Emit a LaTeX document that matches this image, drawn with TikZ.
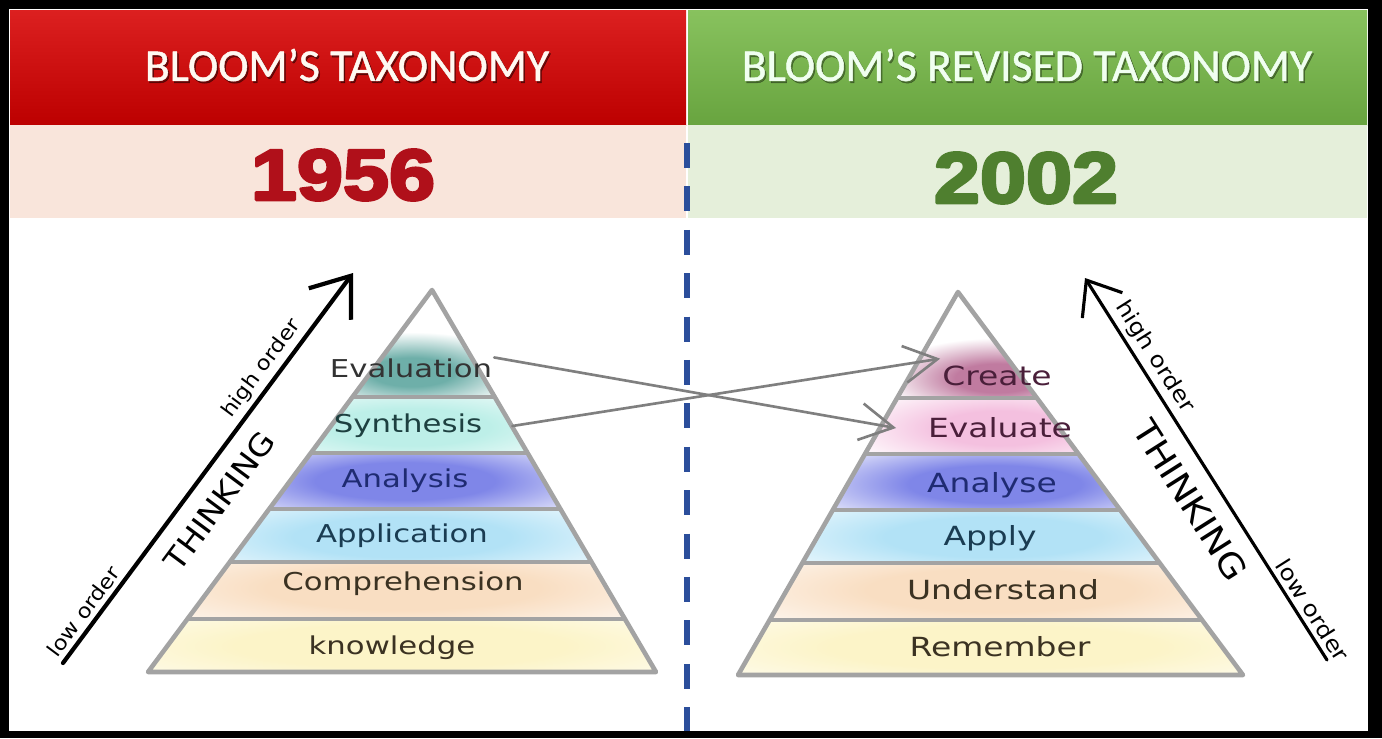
\documentclass[tikz,border=0pt]{standalone}
\usepackage{fontspec}
\usetikzlibrary{arrows.meta}
\setmainfont{DejaVu Sans}
\newfontfamily\headfont{Carlito}[FakeBold=1]
\newfontfamily\yearfont{Liberation Sans}[FakeStretch=1.15,BoldFeatures={FakeBold=4}]
\newfontfamily\lblfont{DejaVu Sans}[FakeStretch=1.25]
\newfontfamily\slfont{DejaVu Sans}[FakeStretch=1.12]

% header and band colours
\definecolor{redtop}{HTML}{DC2020}
\definecolor{redbot}{HTML}{BC0000}
\definecolor{greentop}{HTML}{88C25E}
\definecolor{greenbot}{HTML}{68A43F}
\definecolor{rowL}{HTML}{F9E5DB}
\definecolor{rowR}{HTML}{E5EFDA}
\definecolor{yearred}{HTML}{B0101A}
\definecolor{yeargreen}{HTML}{4F7F2F}
\definecolor{divblue}{HTML}{2B4E9B}
\definecolor{pyrgray}{HTML}{A3A3A3}
\definecolor{crossgray}{HTML}{7F7F7F}
% glow colours, bottom to top
\definecolor{gEval}{HTML}{6EAFA9}
\definecolor{gSynth}{HTML}{BDEFE8}
\definecolor{gAnal}{HTML}{7F86E8}
\definecolor{gAppl}{HTML}{B2E2F6}
\definecolor{gComp}{HTML}{F9DEC2}
\definecolor{gKnow}{HTML}{FCF4C8}
\definecolor{gCreate}{HTML}{C07BA0}
\definecolor{gEvalR}{HTML}{F4C0DF}
% text colours
\definecolor{tTeal}{HTML}{1D4040}
\definecolor{tNavy}{HTML}{1F2B72}
\definecolor{tBlue}{HTML}{1A3C52}
\definecolor{tBrown}{HTML}{3B3222}
\definecolor{tPlum}{HTML}{4A1F3A}

% soft glow behind a level name
\colorlet{glowc}{white}
\pgfdeclareradialshading[glowc]{glow}{\pgfpointorigin}{color(0bp)=(glowc); color(9bp)=(glowc); color(25bp)=(white); color(50bp)=(white)}

\begin{document}
\begin{tikzpicture}[x=0.02cm,y=-0.02cm,line join=round,line cap=round,
	hdr/.style={font=\headfont\fontsize{26}{30}\selectfont},
	year/.style={font=\yearfont\bfseries\fontsize{41}{44}\selectfont},
	lvl/.style={font=\lblfont\fontsize{14}{16}\selectfont,inner sep=1pt},
	rlvl/.style={font=\lblfont\fontsize{15}{17}\selectfont,inner sep=1pt},
	pyr/.style={draw=pyrgray,line width=2.6pt},
	sep/.style={draw=pyrgray,line width=2.3pt},
	cross/.style={draw=crossgray,line width=1.5pt,-{Straight Barb[length=19pt,width=21pt]}},
	order/.style={font=\slfont\fontsize{11.5}{13}\selectfont,inner sep=2.5pt},
	think/.style={font=\slfont\fontsize{17}{19}\selectfont,inner sep=1pt}]

	% frame
	\fill[black] (0,0) rectangle (1382,738);
	\fill[white] (9,9) rectangle (1368,731);

	% headers
	\shade[top color=redtop,bottom color=redbot] (10,10) rectangle (686,125);
	\shade[top color=greentop,bottom color=greenbot] (688,10) rectangle (1367,125);
	\fill[rowL] (10,125) rectangle (686,218);
	\fill[rowR] (688,125) rectangle (1367,218);
	\node[hdr,text=black,opacity=.45] at (348.5,67) {BLOOM’S TAXONOMY};
	\node[hdr,text=white!95!orange] (hdrL) at (347,65) {BLOOM’S TAXONOMY};
	\node[hdr,text=black,opacity=.35] at (1028.5,67) {BLOOM’S REVISED TAXONOMY};
	\node[hdr,text=white!94!green] (hdrR) at (1027,65) {BLOOM’S REVISED TAXONOMY};
	\node[year,text=yearred] (yearL) at (343,175) {1956};
	\node[year,text=yeargreen] (yearR) at (1026,178) {2002};

	% divider
	\draw[divblue,line width=3.6pt,line cap=butt,dash pattern=on 14.2pt off 10.5pt] (687,143) -- (687,731);

	% 1956 pyramid
	\begin{scope}
		\clip (432,290) -- (148,672) -- (656,672) -- cycle;
		\foreach \yt/\yb/\cx/\cy/\rx/\ry/\c in {280/397/412/372/58/20/gEval,397/453/410/427/110/26/gSynth,453/509/405/481/125/26/gAnal,509/562/402/537/150/28/gAppl,562/619/403/588/190/30/gComp,619/680/400/646/230/30/gKnow}{
			\begin{scope}
				\clip (100,\yt) rectangle (700,\yb);
				\colorlet{glowc}{\c}
				\shade[shading=glow] (\cx,\cy) ellipse ({2*\rx} and {2*\ry});
			\end{scope}}
		\foreach \y in {397,453,509,562,619} \draw[sep] (100,\y) -- (700,\y);
	\end{scope}
	\draw[pyr] (432,290) -- (148,672) -- (656,672) -- cycle;

	% 2002 pyramid
	\begin{scope}
		\clip (958,292) -- (738,675) -- (1243,675) -- cycle;
		\foreach \yt/\yb/\cx/\cy/\rx/\ry/\c in {280/398/997/378/58/20/gCreate,398/454/1000/428/85/24/gEvalR,454/510/995/484/120/26/gAnal,510/563/993/537/150/28/gAppl,563/620/1000/590/185/30/gComp,620/680/995/647/230/30/gKnow}{
			\begin{scope}
				\clip (700,\yt) rectangle (1300,\yb);
				\colorlet{glowc}{\c}
				\shade[shading=glow] (\cx,\cy) ellipse ({2*\rx} and {2*\ry});
			\end{scope}}
		\foreach \y in {398,454,510,563,620} \draw[sep] (700,\y) -- (1300,\y);
	\end{scope}
	\draw[pyr] (958,292) -- (738,675) -- (1243,675) -- cycle;

	% level names
	\node[lvl,text=black!80] (evaluation) at (411,368) {Evaluation};
	\node[lvl,text=tTeal] (synthesis) at (408,426) {Synthesis};
	\node[lvl,text=tNavy] (analysis) at (405,481) {Analysis};
	\node[lvl,text=tBlue] (application) at (402,536) {Application};
	\node[lvl,text=tBrown] (comprehension) at (403,584) {Comprehension};
	\node[lvl,text=tBrown] (knowledge) at (392,648) {knowledge};

	\node[rlvl,text=tPlum] (create) at (997,376) {Create};
	\node[rlvl,text=tPlum] (evaluate) at (1000,428) {Evaluate};
	\node[rlvl,text=tNavy] (analyse) at (992,485) {Analyse};
	\node[rlvl,text=tBlue] (apply) at (990,538) {Apply};
	\node[rlvl,text=tBrown] (understand) at (1003,590) {Understand};
	\node[rlvl,text=tBrown] (remember) at (1000,647) {Remember};

	% old level -> new level
	\draw[cross] ([yshift=6pt]evaluation.east) -- ([xshift=-17pt]evaluate.west);
	\draw[cross] ([xshift=16pt]synthesis.east) -- ([yshift=3pt]create.north west);

	% thinking arrows
	\coordinate (lowL) at (63,663);
	\coordinate (highL) at (353,273);
	\draw[line width=2.4pt,-{Straight Barb[length=20pt,width=30pt]}] (lowL) -- (highL)
		node[pos=.11,sloped,above,order] {low order}
		node[pos=.73,sloped,above,order] {high order}
		node[pos=.46,sloped,below=8pt,think] {THINKING};

	\coordinate (lowR) at (1327,660);
	\coordinate (highR) at (1085,278);
	\draw[line width=1.8pt,-{Straight Barb[length=17pt,width=27pt]}] (lowR) -- (highR)
		node[pos=.11,sloped,above,order,font=\slfont\fontsize{12.5}{14}\selectfont] {low order}
		node[pos=.77,sloped,above,order,font=\slfont\fontsize{12.5}{14}\selectfont] {high order}
		node[pos=.46,sloped,below=8pt,think,font=\slfont\fontsize{19}{21}\selectfont] {THINKING};
\end{tikzpicture}
\end{document}
